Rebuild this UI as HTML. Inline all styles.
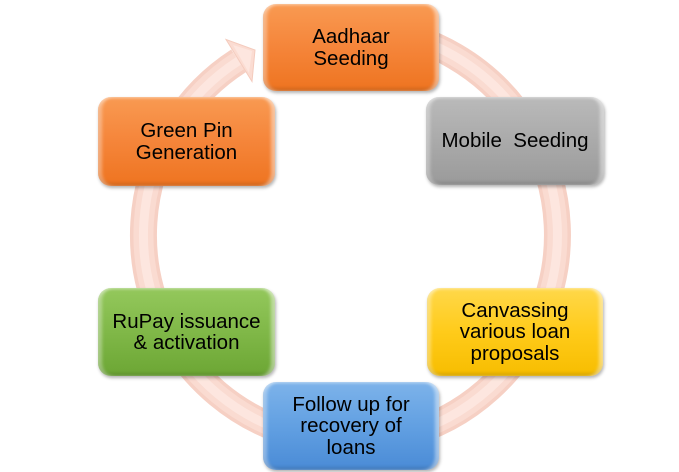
<!DOCTYPE html>
<html>
<head>
<meta charset="utf-8">
<style>
  html,body{margin:0;padding:0;background:#fff;}
  body{width:679px;height:472px;position:relative;overflow:hidden;font-family:"Liberation Sans",Arial,sans-serif;}
  svg{position:absolute;left:0;top:0;}
  .box{position:absolute;box-sizing:border-box;border-radius:13px;display:flex;align-items:center;justify-content:center;text-align:center;font-size:20.5px;line-height:21.5px;color:#000;
    box-shadow: inset 5px 0 3px -1px rgba(255,255,255,0.35), inset -5px 0 3px -1px rgba(255,255,255,0.45), inset 0 -3px 3px rgba(0,0,0,0.12), inset 0 2px 2px rgba(255,255,255,0.25), 1px 2px 3px rgba(0,0,0,0.3);}
  .orange{background:linear-gradient(#f99a52,#f5853a 50%,#ee7420);}
  .gray{background:linear-gradient(#bababa,#aaaaaa 50%,#9a9a9a);}
  .yellow{background:linear-gradient(#ffd84a,#ffcb1a 50%,#f7bd00);}
  .blue{background:linear-gradient(#7db3ea,#62a0e2 50%,#4a8bd6);}
  .green{background:linear-gradient(#94c85c,#80b848 50%,#6ca634);}
</style>
</head>
<body>
<svg width="679" height="472" viewBox="0 0 679 472">
  <path d="M368.5 28.8 A207 207 0 1 1 238.5 60.9" fill="none" stroke="#f6d0c4" stroke-width="27"/>
  <path d="M368.5 28.8 A207 207 0 1 1 238.5 60.9" fill="none" stroke="#fadbd1" stroke-width="20"/>
  <path d="M368.5 28.8 A207 207 0 1 1 238.5 60.9" fill="none" stroke="#fde6df" stroke-width="9"/>
  <polygon points="226,39.5 255,50 252,81.5" fill="#fbdcd2" stroke="#f4cbbd" stroke-width="1"/>
  <polygon points="233,45 252,51 249,73" fill="#fde6df"/>
</svg>

<div class="box orange" style="left:263px;top:4px;width:176px;height:87px;">Aadhaar<br>Seeding</div>
<div class="box gray" style="left:426px;top:97px;width:178px;height:88px;">Mobile&nbsp; Seeding</div>
<div class="box yellow" style="left:427px;top:288px;width:176px;height:88px;">Canvassing<br>various loan<br>proposals</div>
<div class="box blue" style="left:263px;top:382px;width:176px;height:88px;">Follow up for<br>recovery of<br>loans</div>
<div class="box green" style="left:98px;top:288px;width:177px;height:88px;">RuPay issuance<br>&amp; activation</div>
<div class="box orange" style="left:98px;top:97px;width:177px;height:89px;">Green Pin<br>Generation</div>
</body>
</html>
